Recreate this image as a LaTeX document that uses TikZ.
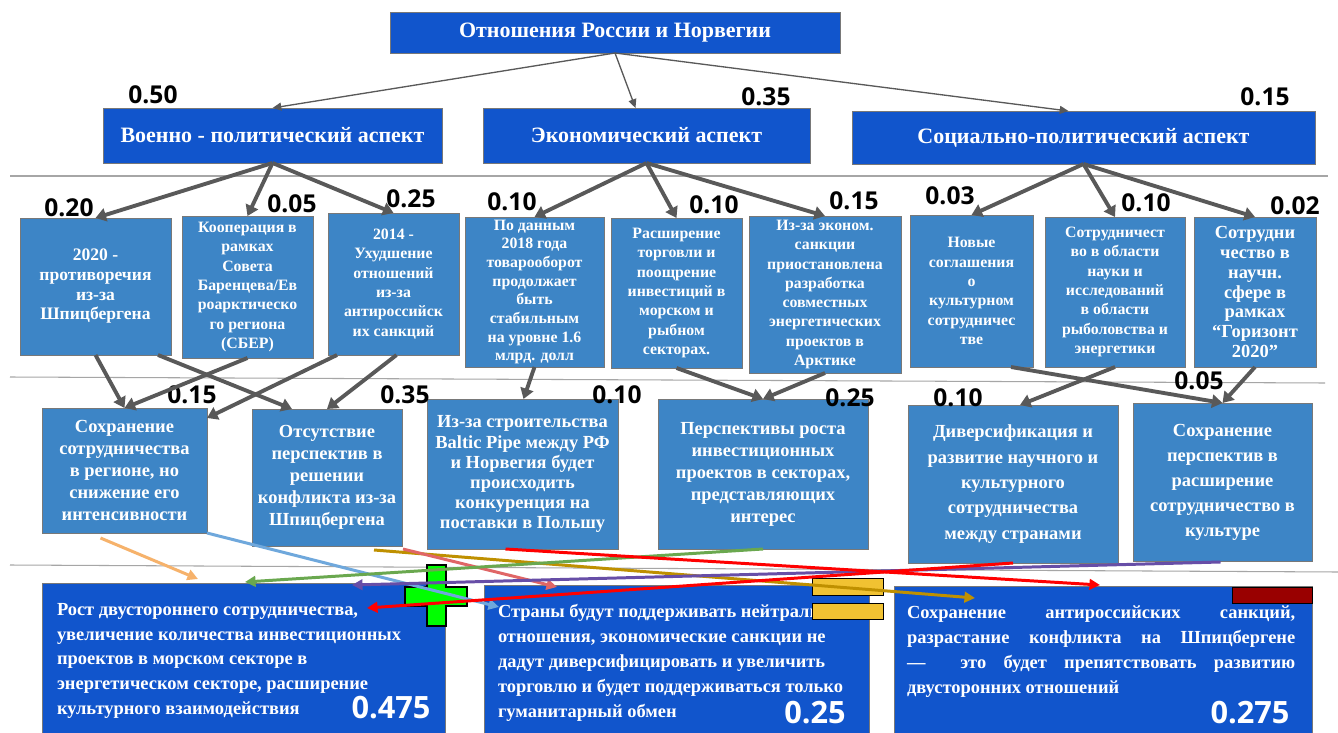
\documentclass[tikz,border=0pt]{standalone}
\usepackage{fontspec}
\setmainfont{Liberation Serif}
\newfontfamily\numfont{Open Sans}
\usetikzlibrary{fit,arrows.meta}
\definecolor{myblued}{RGB}{17,85,204}
\definecolor{mybluel}{RGB}{61,133,198}
\definecolor{mygrey}{RGB}{89,89,89}
\definecolor{myframe}{RGB}{120,120,120}
\definecolor{myorange}{RGB}{246,178,107}
\definecolor{mylblue}{RGB}{111,168,220}
\definecolor{mygold}{RGB}{191,144,0}
\definecolor{mysalmon}{RGB}{224,102,102}
\definecolor{mygreen}{RGB}{106,168,79}
\definecolor{mypurple}{RGB}{103,78,167}
\definecolor{myred}{RGB}{255,0,0}
\definecolor{myyellow}{RGB}{241,194,50}
\definecolor{mydarkred}{RGB}{153,0,0}
\definecolor{mylime}{RGB}{0,255,0}

\begin{document}
\begin{tikzpicture}[x=0.02cm,y=-0.02cm,outer sep=0pt,
	sz/.style 2 args={minimum width=#1*0.02cm,minimum height=#2*0.02cm},
	relb/.style={
		draw=myframe,
		fill=myblued,
		inner sep=0pt,
		text=white,
		font={\bfseries\fontsize{12.5}{14}\selectfont}},
	factb/.style={
		draw=myframe,
		fill=mybluel,
		inner sep=0pt,
		text=white,
		align=center,
		font={\bfseries\fontsize{9}{11}\selectfont}},
	resb/.style={factb,font={\bfseries\fontsize{10.5}{12.5}\selectfont}},
	outb/.style={draw=myframe,fill=myblued,inner sep=0pt},
	outt/.style={text=white,align=left,inner sep=0pt,anchor=north west,
		font={\bfseries\fontsize{10.5}{14.2}\selectfont}},
	markb/.style={draw=black,inner sep=0pt},
	wt/.style={inner sep=0pt,font={\numfont\bfseries\fontsize{14}{16}\selectfont}},
	bigwt/.style={wt,text=white,font={\numfont\bfseries\fontsize{17.5}{20}\selectfont}},
	toparr/.style={draw=mygrey,line width=0.75pt,-{Triangle[length=5pt,width=4.5pt]}},
	factarr/.style={draw=mygrey,line width=2.2pt,-{Triangle[length=6pt,width=7.5pt]}},
	colarr/.style={line width=1.7pt,-{Triangle[length=6pt,width=6pt]}},
	sepline/.style={draw=gray!70,line width=0.6pt},
	]
	\path[use as bounding box,fill=white] (0,0) rectangle (1338,733);
	% separators
	\draw[sepline] (10,176) -- (1328,176);
	\draw[sepline] (10,377) -- (1325,383);
	\draw[sepline] (10,565) -- (1338,572);

	% top and aspects
	\node[relb, sz={450}{41}] (REL) at (615,32.5) {Отношения России и Норвегии};
	\node[relb, sz={339}{55}] (MIL) at (272.5,135.5) {Военно - политический аспект};
	\node[relb, sz={327}{55}] (ECO) at (646.5,135.5) {Экономический аспект};
	\node[relb, sz={463}{53}] (SOC) at (1083.5,137.5) {Социально-политический аспект};
	\node[wt] (wMIL) at (153,95) {0.50};
	\node[wt] (wECO) at (766,97) {0.35};
	\node[wt] (wSOC) at (1265,97) {0.15};

	% factors
	\node[factb, sz={151}{137}, font={\bfseries\fontsize{10}{11.2}\selectfont}] (SV) at (95.5,286.5)
		{2020 -\\противоречия\\из-за\\Шпицбергена};
	\node[factb, sz={131}{142}] (SB) at (247.5,287)
		{Кооперация в\\рамках\\Совета\\Баренцева/Ев\\роарктическо\\го региона\\(СБЕР)};
	\node[factb, sz={131}{142}] (SN) at (393.5,284)
		{2014 -\\Ухудшение\\отношений\\из-за\\антироссийск\\их санкций};
	\node[factb, sz={139}{150}, font={\bfseries\fontsize{9}{10.6}\selectfont}] (TO) at (534.5,292)
		{По данным\\2018 года\\товарооборот\\продолжает\\быть\\стабильным\\на уровне 1.6\\млрд. долл};
	\node[factb, sz={131}{150}] (TR) at (676.5,293)
		{Расширение\\торговли и\\поощрение\\инвестиций в\\морском и\\рыбном\\секторах.};
	\node[factb, sz={152}{157}] (EP) at (825,294.5)
		{Из-за эконом.\\санкции\\приостановлена\\разработка\\совместных\\энергетических\\проектов в\\Арктике};
	\node[factb, sz={123}{152}] (KS) at (971.5,291)
		{Новые\\соглашения\\о\\культурном\\сотрудничес\\тве};
	\node[factb, sz={140}{150}] (NI) at (1115,292)
		{Сотрудничест\\во в области\\науки и\\исследований\\в области\\рыболовства и\\энергетики};
	\node[factb, sz={122}{150}, font={\bfseries\fontsize{10.5}{11.2}\selectfont}] (GZ) at (1255,292)
		{Сотрудни\\чество в\\научн.\\сфере в\\рамках\\“Горизонт\\2020"};
	\node[wt] (wSV) at (69,208) {0.20};
	\node[wt] (wSB) at (292,204) {0.05};
	\node[wt] (wSN) at (411,199) {0.25};
	\node[wt] (wTO) at (512,202) {0.10};
	\node[wt] (wTR) at (714,205) {0.10};
	\node[wt] (wEP) at (854,201) {0.15};
	\node[wt] (wKS) at (950,196) {0.03};
	\node[wt] (wNI) at (1146,203) {0.10};
	\node[wt] (wGZ) at (1295,206) {0.02};

	% consequences
	\node[resb, sz={165}{125}] (CR) at (124.5,470.5)
		{Сохранение\\сотрудничества\\в регионе, но\\снижение его\\интенсивности};
	\node[resb, sz={150}{137}] (OP) at (327,477.5)
		{Отсутствие\\перспектив в\\решении\\конфликта из-за\\Шпицбергена};
	\node[resb, sz={191}{150}, font={\bfseries\fontsize{10.5}{11.4}\selectfont}] (BP) at (522.5,474)
		{Из-за строительства\\Baltic Pipe между РФ\\и Норвегия будет\\происходить\\конкуренция на\\поставки в Польшу};
	\node[resb, sz={210}{150}] (PI) at (763,474)
		{Перспективы роста\\инвестиционных\\проектов в секторах,\\представляющих\\интерес};
	\node[resb, sz={210}{158}, font={\bfseries\fontsize{10.5}{14.4}\selectfont}] (DS) at (1013,484)
		{Диверсификация и\\развитие научного и\\культурного\\сотрудничества\\между странами};
	\node[resb, sz={179}{158}, font={\bfseries\fontsize{10.5}{14.2}\selectfont}] (SK) at (1222.5,482)
		{Сохранение\\перспектив в\\расширение\\сотрудничество в\\культуре};
	\node[wt] (wCR) at (192,395) {0.15};
	\node[wt] (wOP) at (405,395) {0.35};
	\node[wt] (wBP) at (617,395) {0.10};
	\node[wt] (wPI) at (850,398) {0.25};
	\node[wt] (wDS) at (958,398) {0.10};
	\node[wt] (wSK) at (1199,381) {0.05};

	% scenarios
	\node[outb, sz={403}{157}] (OPT) at (243.5,661.5) {};
	\node[outb, sz={385}{155}] (NEU) at (676.5,662.5) {};
	\node[outb, sz={418}{154}] (PES) at (1103,663) {};
	\node[outt] (tOPT) at (57,603)
		{Рост двустороннего сотрудничества,\\увеличение количества инвестиционных\\проектов в морском секторе в\\энергетическом секторе, расширение\\культурного взаимодействия};
	\node[outt] (tNEU) at (498,604)
		{Страны будут поддерживать нейтральные\\отношения, экономические санкции не\\дадут диверсифицировать и увеличить\\торговлю и будет поддерживаться только\\гуманитарный обмен};
	\node[outt] (tPES) at (907,606)
		{\makebox[221pt][s]{Сохранение антироссийских санкций,}\\
		 \makebox[221pt][s]{разрастание конфликта на Шпицбергене}\\
		 \makebox[221pt][s]{— \ это будет препятствовать развитию}\\
		 двусторонних отношений};
	\node[bigwt] (wOPT) at (391,708) {0.475};
	\node[bigwt] (wNEU) at (815,713) {0.25};
	\node[bigwt] (wPES) at (1250,713) {0.275};

	% arrows top
	\draw[toparr] (REL.south) -- (MIL.north);
	\draw[toparr] (REL.south) -- ([shift={(-11,0)}]ECO.north);
	\draw[toparr] (REL.south) -- ([shift={(-15,0)}]SOC.north);
	\foreach \f in {SV,SB,SN} \draw[factarr] (MIL.south) -- (\f.north);
	\foreach \f in {TO,TR,EP} \draw[factarr] (ECO.south) -- (\f.north);
	\foreach \f in {KS,NI,GZ} \draw[factarr] (SOC.south) -- (\f.north);
	\draw[factarr] (SV.south) -- (CR.north);
	\draw[factarr] ([shift={(-13,0)}]SV.south east) -- ([shift={(-35,0)}]OP.north);
	\draw[factarr] (SB.south) -- (CR.north);
	\draw[factarr] ([shift={(9,0)}]SN.south west) -- ([shift={(0,10)}]CR.north east);
	\draw[factarr] ([shift={(3,0)}]SN.south) -- (OP.north);
	\draw[factarr] (TO.south) -- ([shift={(1,0)}]BP.north);
	\draw[factarr] (TR.south) -- (PI.north);
	\draw[factarr] (EP.south) -- (PI.north);
	\draw[factarr] ([shift={(-22,0)}]KS.south east) -- (SK.north);
	\draw[factarr] (NI.south) -- ([shift={(7,0)}]DS.north);
	\draw[factarr] (GZ.south) -- (SK.north);

	% marks
	\draw[fill=mylime,line width=0.6pt] (427,565) -- (446,565) -- (446,587) -- (467,587)
		-- (467,606) -- (446,606) -- (446,626) -- (427,626) -- (427,606) -- (405,606)
		-- (405,587) -- (427,587) -- cycle;
	\node[markb, fill=myyellow, sz={71}{17}] (mY1) at (847.5,586.5) {};
	\node[markb, fill=myyellow, sz={71}{16}] (mY2) at (847.5,611) {};
	\node[markb, fill=mydarkred, sz={80}{16}] (mDR) at (1272,595) {};

	% coloured links
	\draw[colarr,myorange] ([shift={(-24,5)}]CR.south) -- ([shift={(156,-4)}]OPT.north west);
	\draw[colarr,mylblue] (CR.south east) -- ([shift={(15,22)}]NEU.north west);
	\draw[colarr,mygold] ([shift={(47,4)}]OP.south) -- ([shift={(81,12)}]PES.north west);
	\draw[colarr,mysalmon] ([shift={(1,3)}]OP.south east) -- ([shift={(73,2)}]NEU.north west);
	\draw[colarr,mygreen] (PI.south) -- ([shift={(203,-1)}]OPT.north west);
	\draw[colarr,mypurple] ([shift={(-2,1)}]SK.south) -- ([shift={(310,2)}]OPT.north west);
	\draw[colarr,myred] (DS.south) -- ([shift={(325,25)}]OPT.north west);
	\draw[colarr,myred] ([shift={(-17,0)}]BP.south) -- ([shift={(206,-1)}]PES.north west);
\end{tikzpicture}
\end{document}
